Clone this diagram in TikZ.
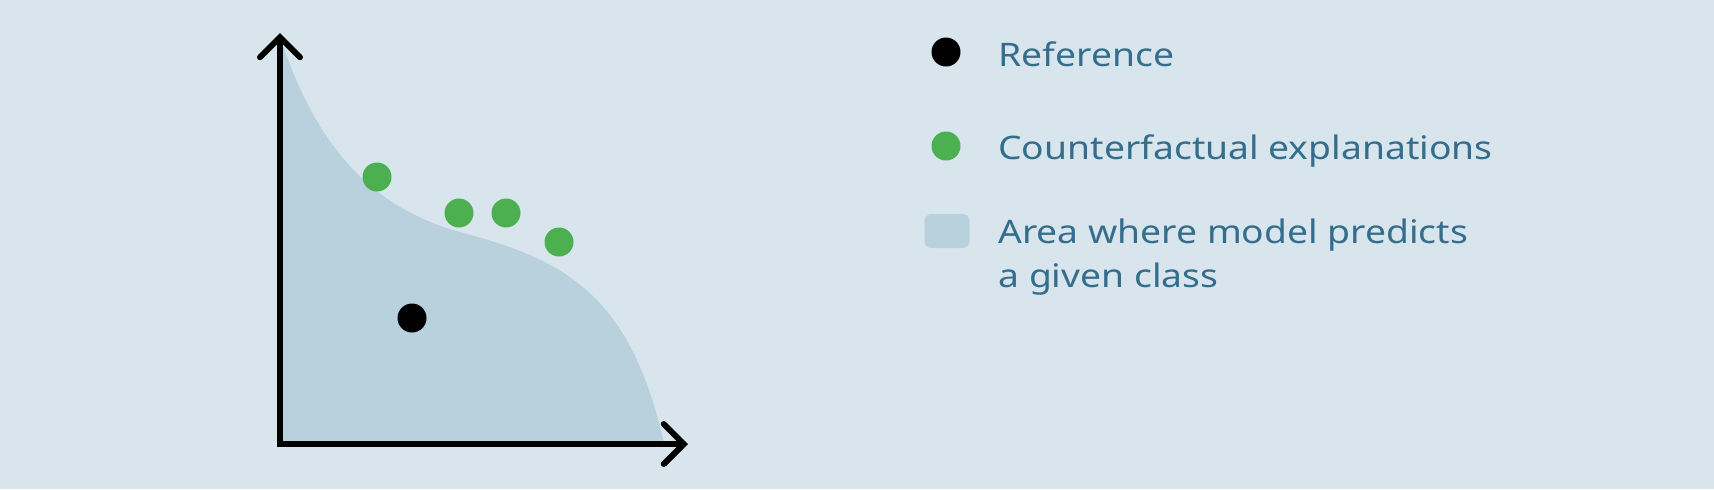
\documentclass[tikz,border=0pt]{standalone}
\usepackage{fontspec}
\setmainfont{Noto Sans}[FakeStretch=1.15]
\usetikzlibrary{arrows.meta}
\definecolor{bgblue}{HTML}{D8E5ED}
\definecolor{areablue}{HTML}{B9D0DD}
\definecolor{cfgreen}{HTML}{4CAF50}
\definecolor{labelblue}{HTML}{346E8C}
\begin{document}
\begin{tikzpicture}[
  x=0.5pt, y=-0.5pt,
  dot/.style={circle, fill, inner sep=0pt, minimum size=14.5pt},
  refdot/.style={dot, fill=black},
  cfdot/.style={dot, fill=cfgreen},
  areabox/.style={fill=areablue, rounded corners=3.5pt, inner sep=0pt, minimum width=22.5pt, minimum height=17pt},
  label/.style={anchor=base west, inner sep=0pt, text=labelblue, font=\fontsize{16.2pt}{22pt}\selectfont, align=left},
  axis/.style={line width=3pt, {Straight Barb[length=10pt, width=20pt, line cap=round]}-{Straight Barb[length=10pt, width=20pt, line cap=round]}}
]
\fill[bgblue] (0,0) rectangle (1714,489);

% class region
\coordinate (origin) at (280,444);
\coordinate (ytip) at (280,33);
\coordinate (xtip) at (688,444);
\fill[areablue] (origin) -- (280,36)
  .. controls (310,130) and (360,205) .. (460,232)
  .. controls (560,259) and (630,290) .. (664,444) -- cycle;
\draw[axis] (ytip) -- (origin) -- (xtip);

% points
\node[refdot] (ref) at (412,318) {};
\node[cfdot] (cf1) at (377,177) {};
\node[cfdot] (cf2) at (459,213) {};
\node[cfdot] (cf3) at (506,213) {};
\node[cfdot] (cf4) at (559,242) {};

% legend
\node[refdot] (keyref) at (946,52) {};
\node[cfdot] (keycf) at (946,146) {};
\node[areabox] (keyarea) at (947,231) {};
\node[label] (txtref) at (998,66) {Reference};
\node[label] (txtcf) at (998,159) {Counterfactual explanations};
\node[label] (txtarea) at (998,287) {Area where model predicts\\a given class};
\end{tikzpicture}
\end{document}
